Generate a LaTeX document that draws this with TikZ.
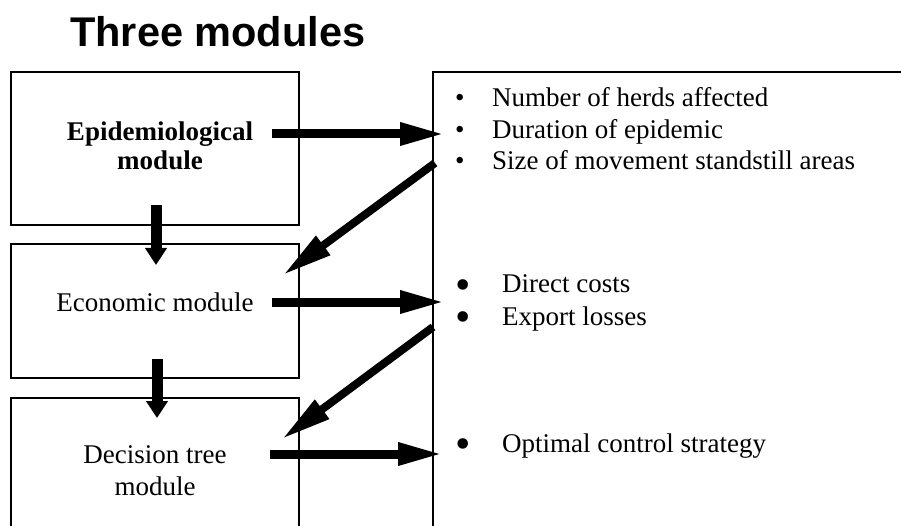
\documentclass[tikz,border=0pt]{standalone}
\usepackage{fontspec}
\setmainfont{Liberation Serif}
\newfontfamily\titlefont{Liberation Sans}
\usetikzlibrary{arrows.meta}
\begin{document}
\begin{tikzpicture}[x=1pt,y=-1pt,
  modbox/.style={draw,line width=1.3pt,minimum width=288pt,inner sep=0pt,outer sep=0pt,anchor=north west},
  outbox/.style={draw,line width=1.3pt,minimum width=600pt,minimum height=600pt,inner sep=0pt,outer sep=0pt,anchor=north west},
  txt/.style={font=\fontsize{27}{30}\selectfont,inner sep=0pt},
  item/.style={txt,anchor=base west},
  harrow/.style={line width=9pt,-{Triangle[length=45pt,width=21pt]}},
  varrow/.style={line width=11pt,-{Triangle[length=17pt,width=21pt]}},
  darrow/.style={line width=8pt,-{Triangle[length=50pt,width=22pt]}}]
\useasboundingbox (0,0) rectangle (901,526);
\clip (0,0) rectangle (901,526);
% title
\node[anchor=base west,inner sep=0pt,font=\titlefont\bfseries\fontsize{41.5}{42}\selectfont] (title) at (70,47) {Three modules};
% boxes
\node[modbox,minimum height=153pt] (epi) at (11,72) {};
\node[modbox,minimum height=134pt] (eco) at (11,244) {};
\node[modbox,minimum height=200pt] (dec) at (11,398) {};
\node[outbox] (out) at (433,72) {};
% box texts
\node[txt,font=\bfseries\fontsize{27}{29}\selectfont,align=center] (epit) at (160,146) {Epidemiological\\module};
\node[txt,anchor=base] (ecot) at (155,311) {Economic module};
\node[txt,font=\fontsize{27}{32}\selectfont,align=center] (dect) at (155,470.5) {Decision tree\\module};
% outputs
\node[item] (o1) at (455,107) {\makebox[37pt][l]{•}Number of herds affected};
\node[item] (o2) at (455,138.5) {\makebox[37pt][l]{•}Duration of epidemic};
\node[item] (o3) at (455,170) {\makebox[37pt][l]{•}Size of movement standstill areas};
\node[item] (o4) at (455,293) {\makebox[47pt][l]{\smash{\fontsize{44}{44}\selectfont\raisebox{-6pt}{•}}}Direct costs};
\node[item] (o5) at (455,325) {\makebox[47pt][l]{\smash{\fontsize{44}{44}\selectfont\raisebox{-6pt}{•}}}Export losses};
\node[item] (o6) at (455,452) {\makebox[47pt][l]{\smash{\fontsize{44}{44}\selectfont\raisebox{-6pt}{•}}}Optimal control strategy};
% arrow end points
\coordinate (h1s) at (272,134);
\coordinate (h1e) at (445,134);
\coordinate (h2s) at (272,302);
\coordinate (h2e) at (445,302);
\coordinate (h3s) at (270,454);
\coordinate (h3e) at (443,454);
\coordinate (v1s) at (156,205);
\coordinate (v1e) at (156,265);
\coordinate (v2s) at (157,359);
\coordinate (v2e) at (157,418);
\coordinate (d1s) at (435,163);
\coordinate (d1e) at (283,275);
\coordinate (d2s) at (433,327);
\coordinate (d2e) at (282,439);
% arrows
\draw[harrow] (h1s) -- (h1e);
\draw[harrow] (h2s) -- (h2e);
\draw[harrow] (h3s) -- (h3e);
\draw[varrow] (v1s) -- (v1e);
\draw[varrow] (v2s) -- (v2e);
\draw[darrow] (d1s) -- (d1e);
\draw[darrow] (d2s) -- (d2e);
\end{tikzpicture}
\end{document}
